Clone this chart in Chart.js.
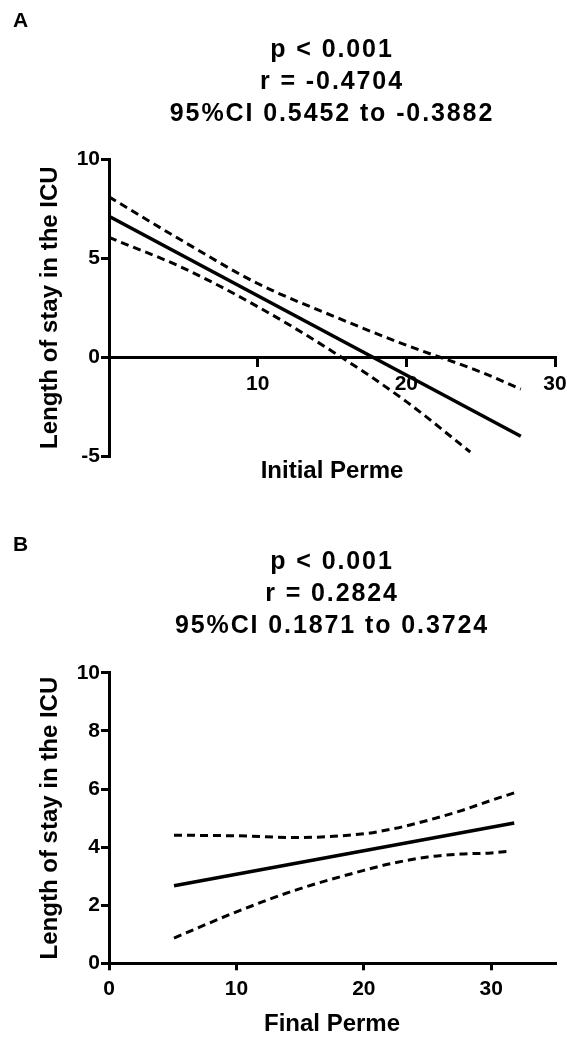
<!DOCTYPE html>
<html>
<head>
<meta charset="utf-8">
<script src="https://cdn.jsdelivr.net/npm/chart.js@4.4.1/dist/chart.umd.min.js"></script>
<style>
html, body { margin: 0; padding: 0; background: #ffffff; }
#wrap { position: relative; width: 567px; height: 1039px; background: #ffffff; }
canvas { position: absolute; left: 0; }
#cA { top: 0; }
#cB { top: 500px; }
</style>
</head>
<body>
<div id="wrap">
  <canvas id="cA" width="567" height="500"></canvas>
  <canvas id="cB" width="567" height="539"></canvas>
</div>
<script>
// ---------- Panel A data ----------
const labelA = 'A';
const statsA = ['p < 0.001', 'r = -0.4704', '95%CI 0.5452 to -0.3882'];
const xTitleA = 'Initial Perme';
const yTitleA = 'Length of stay in the ICU';
const xTicksA = [10, 20, 30];
const yTicksA = [-5, 0, 5, 10];
const fitAX = [0, 27.7];
const fitAY = [7.12, -4.0];
const upperAX = [0, 5, 10, 15, 20, 25, 27.7];
const upperAY = [8.1, 5.85, 3.72, 2.1, 0.6, -0.75, -1.62];
const lowerAX = [0, 5, 10, 15, 20, 24.3];
const lowerAY = [6.05, 4.5, 2.55, 0.3, -2.25, -4.8];

// ---------- Panel B data ----------
const labelB = 'B';
const statsB = ['p < 0.001', 'r = 0.2824', '95%CI 0.1871 to 0.3724'];
const xTitleB = 'Final Perme';
const yTitleB = 'Length of stay in the ICU';
const xTicksB = [0, 10, 20, 30];
const yTicksB = [0, 2, 4, 6, 8, 10];
const fitBX = [5.1, 31.8];
const fitBY = [2.67, 4.83];
const upperBX = [5.1, 10, 14.5, 20, 22.3, 25, 27.6, 30, 31.8];
const upperBY = [4.41, 4.39, 4.33, 4.46, 4.63, 4.92, 5.25, 5.61, 5.87];
const lowerBX = [5.1, 10, 14.5, 20, 22.3, 25, 27.6, 30, 31.5];
const lowerBY = [0.87, 1.77, 2.5, 3.2, 3.45, 3.66, 3.76, 3.8, 3.86];

// ---------- styling ----------
const FONT = "'Liberation Sans', Arial, Helvetica, sans-serif";
const tickFont = { family: FONT, size: 21, weight: 'bold', lineHeight: 1.2 };
const tickFontA = { family: FONT, size: 21, weight: 'bold', lineHeight: 1.8 };
const axisTitleFont = { family: FONT, size: 24, weight: 'bold', lineHeight: 1.2 };
const letterFont = { family: FONT, size: 21, weight: 'bold', lineHeight: 1.2 };
const statsFont = { family: FONT, size: 25, weight: 'bold', lineHeight: 1.268 };

const pts = (xs, ys) => xs.map((x, i) => ({ x: x, y: ys[i] }));

const spacingPlugin = {
  id: 'titleSpacing',
  beforeUpdate(chart) { chart.ctx.letterSpacing = '0px'; },
  beforeDraw(chart) { chart.ctx.letterSpacing = '1.9px'; },
  beforeDatasetsDraw(chart) { chart.ctx.letterSpacing = '0px'; },
  afterDraw(chart) { chart.ctx.letterSpacing = '0px'; }
};

function lineSets(fit, upper, lower) {
  return [
    { data: fit, borderColor: '#000', borderWidth: 3.5, showLine: true, pointRadius: 0, fill: false },
    { data: upper, borderColor: '#000', borderWidth: 3, borderDash: [8, 5], showLine: true,
      pointRadius: 0, fill: false, cubicInterpolationMode: 'monotone' },
    { data: lower, borderColor: '#000', borderWidth: 3, borderDash: [8, 5], showLine: true,
      pointRadius: 0, fill: false, cubicInterpolationMode: 'monotone' }
  ];
}

const gridOpts = (len) => ({ display: true, drawOnChartArea: false, drawTicks: true, tickLength: len,
  tickWidth: 3, lineWidth: 3, tickColor: '#000', color: '#000', z: 1 });
const borderOpts = { display: true, color: '#000', width: 3, z: 1 };

function yAxis(min, max, ticksArr, title) {
  return {
    type: 'linear', position: 'left', min: min, max: max,
    afterBuildTicks: s => { s.ticks = ticksArr.map(v => ({ value: v })); },
    ticks: { color: '#000', font: tickFont, padding: 1, z: 1 },
    grid: gridOpts(8),
    border: borderOpts,
    title: { display: true, text: title, color: '#000', font: axisTitleFont,
             padding: { top: 23.4, bottom: 10.45 } }
  };
}

function commonPlugins(letter, stats, titlePadTop, subPad) {
  return {
    legend: { display: false },
    tooltip: { enabled: false },
    title: { display: true, text: letter, align: 'start', color: '#000', font: letterFont,
             fullSize: true, padding: { top: titlePadTop, bottom: 0 } },
    subtitle: { display: true, text: stats, align: 'center', color: '#000', font: statsFont,
                fullSize: false, padding: subPad }
  };
}

// ---------- Chart A ----------
new Chart(document.getElementById('cA'), {
  type: 'scatter',
  data: { datasets: lineSets(pts(fitAX, fitAY), pts(upperAX, upperAY), pts(lowerAX, lowerAY)) },
  plugins: [spacingPlugin],
  options: {
    responsive: false, animation: false, events: [],
    layout: { padding: { left: 13, right: 12, top: 0, bottom: 0 } },
    plugins: commonPlugins(labelA, statsA, 8.2, { top: 1.25, bottom: 29.55 }),
    scales: {
      x: {
        type: 'linear', position: { y: 0 }, min: 0, max: 30,
        afterBuildTicks: s => { s.ticks = xTicksA.map(v => ({ value: v })); },
        ticks: { color: '#000', font: tickFontA, padding: 0, maxRotation: 0, z: 1 },
        grid: gridOpts(8),
        border: borderOpts,
        title: { display: false }
      },
      xt: {
        type: 'linear', axis: 'x', position: 'bottom', min: 0, max: 30, display: true,
        ticks: { display: false },
        grid: { display: false, drawTicks: false, drawOnChartArea: false, z: 1 },
        border: { display: false, z: 1 },
        title: { display: true, text: xTitleA, color: '#000', font: axisTitleFont,
                 padding: { top: 1.1, bottom: 14.1 } }
      },
      y: yAxis(-5, 10, yTicksA, yTitleA)
    }
  }
});

// ---------- Chart B ----------
new Chart(document.getElementById('cB'), {
  type: 'scatter',
  data: { datasets: lineSets(pts(fitBX, fitBY), pts(upperBX, upperBY), pts(lowerBX, lowerBY)) },
  plugins: [spacingPlugin],
  options: {
    responsive: false, animation: false, events: [],
    layout: { padding: { left: 13, right: 12, top: 0, bottom: 0 } },
    plugins: commonPlugins(labelB, statsB, 32.4, { top: -10.93, bottom: 31.1 }),
    scales: {
      x: {
        type: 'linear', position: 'bottom', min: 0, max: 35,
        afterBuildTicks: s => { s.ticks = xTicksB.map(v => ({ value: v })); },
        ticks: { color: '#000', font: tickFont, padding: 6, maxRotation: 0, z: 1 },
        grid: gridOpts(7),
        border: borderOpts,
        title: { display: true, text: xTitleB, color: '#000', font: axisTitleFont,
                 padding: { top: 2.0, bottom: 0.7 } }
      },
      y: yAxis(0, 10, yTicksB, yTitleB)
    }
  }
});
</script>
</body>
</html>
